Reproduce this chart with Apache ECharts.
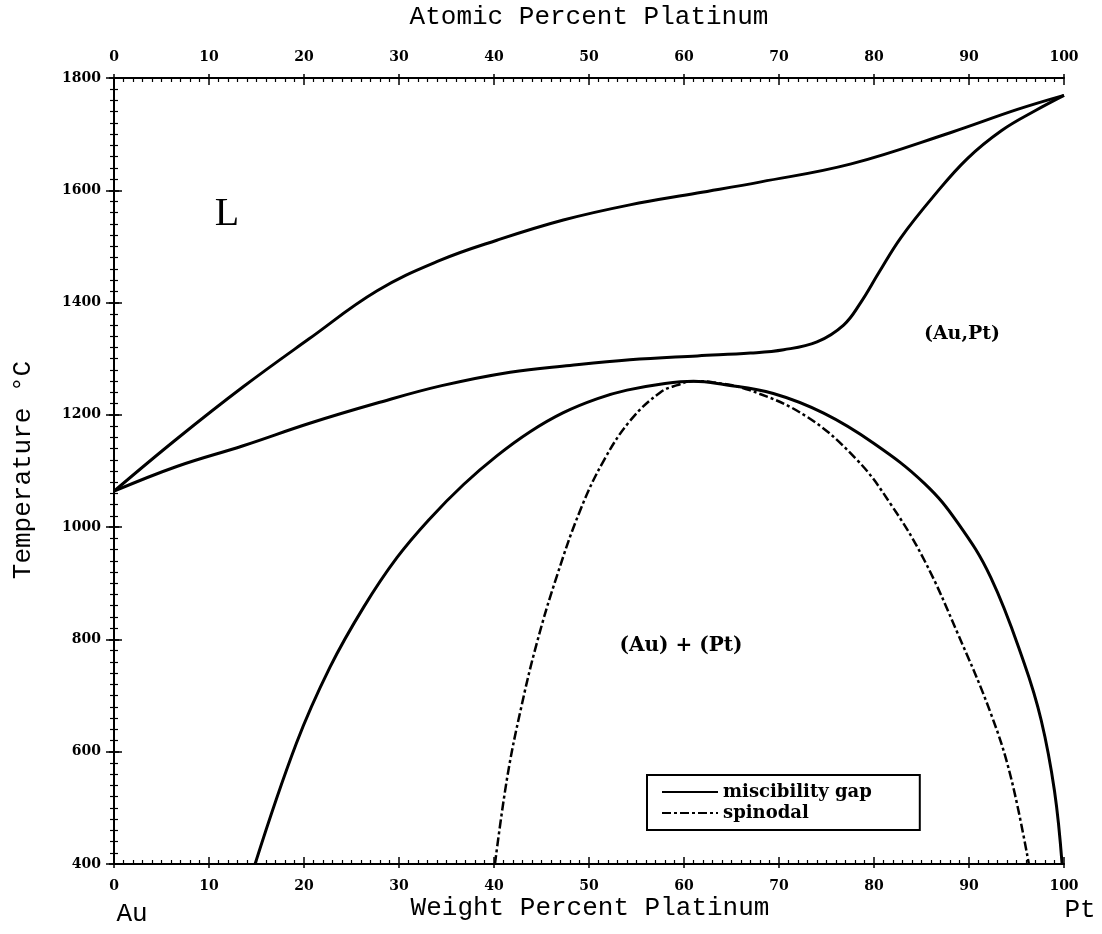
<!DOCTYPE html>
<html>
<head>
<meta charset="utf-8">
<script src="https://cdn.jsdelivr.net/npm/echarts@6/dist/echarts.min.js"></script>
<style>html,body{margin:0;padding:0;background:#fff;}#c{width:1102px;height:934px;}</style>
</head>
<body>
<div id="c"></div>
<script>
// Weight percent Pt vs temperature (°C)
const liquidus = [[0,1064],[6.6,1157],[13.6,1250],[20.5,1335],[27.7,1421],[34.3,1475],[40.3,1511],[47.3,1547],[54.3,1574],[61.4,1595],[68.1,1615],[77.6,1647],[88.1,1703],[95.1,1744],[100,1769]];
const solidus = [[0,1064],[6.6,1108],[13.6,1145],[20.6,1185],[27.7,1221],[34.5,1252],[41.7,1276],[48,1288],[54.3,1298],[61.4,1305],[67,1310],[70.5,1316],[74,1330],[76.8,1360],[78.6,1400],[80.5,1453],[82.8,1515],[86.3,1590],[89.8,1656],[93.4,1706],[97,1742],[100,1769]];
const miscibilityGap = [[14.85,400],[19.2,615],[22.75,751],[26.3,858],[29.8,946],[33.3,1016],[36.8,1076],[40.3,1127],[43.8,1170],[47.3,1204],[50.9,1229],[54,1244],[58,1256],[61,1260],[64.2,1254],[69.4,1238],[74.7,1203],[80,1149],[85.3,1078],[88.8,1008],[92.3,910],[95.8,758],[97.6,656],[99,530],[99.8,400]];
const spinodal = [[40.1,400],[41.4,555],[42.8,674],[44.5,793],[46.6,912],[49.1,1031],[51.6,1120],[54.4,1191],[57.5,1240],[59.3,1253],[61,1260],[63,1258],[66.9,1244],[72.9,1197],[78.2,1120],[81.8,1040],[85.3,941],[88.8,811],[92.3,668],[94.4,555],[96.3,400]];
const xTicks = [0,10,20,30,40,50,60,70,80,90,100];
const yTicks = [400,600,800,1000,1200,1400,1600,1800];
const legendNames = ['miscibility gap','spinodal'];

const chart = echarts.init(document.getElementById('c'));
const labFont = {fontFamily:'DejaVu Serif', fontWeight:'bold', fontSize:14, color:'#000'};
function xAx(pos, labeled) {
  return {
    type:'value', position:pos, min:xTicks[0], max:xTicks[xTicks.length-1], interval:10,
    axisLine:{show:labeled, lineStyle:{color:'#000', width:2}},
    axisTick:{show:true, inside:!labeled, length: labeled?4:7, lineStyle:{color:'#000', width:1.5}},
    minorTick:{show:!labeled, splitNumber:10, length:4, lineStyle:{color:'#000', width:1.2}},
    axisLabel:Object.assign({show:labeled, margin: pos==='top'?14:15, formatter:function(v){return String(v);}}, labFont),
    splitLine:{show:false}
  };
}
function yAx(pos, labeled, showLab) {
  return {
    type:'value', position:pos, min:yTicks[0], max:yTicks[yTicks.length-1], interval:200,
    axisLine:{show:labeled, lineStyle:{color:'#000', width:2}},
    axisTick:{show:true, inside:!labeled, length: labeled?8:5, lineStyle:{color:'#000', width:1.5}},
    minorTick:{show:!labeled, splitNumber:10, length:4, lineStyle:{color:'#000', width:1.2}},
    axisLabel:Object.assign({show:showLab, margin:13, formatter:function(v){return String(v);}}, labFont),
    splitLine:{show:false}
  };
}
const lineBase = {type:'line', symbol:'none', smooth:0.4, xAxisIndex:0, yAxisIndex:0, silent:true, z:3};
chart.setOption({
  animation:false,
  backgroundColor:'#fff',
  grid:{left:114, right:38, top:78, bottom:70},
  xAxis:[xAx('bottom',true), xAx('bottom',false), xAx('top',true), xAx('top',false)],
  yAxis:[yAx('left',true,true), yAx('left',false,false), yAx('right',true,false), yAx('right',false,false)],
  legend:{
    data:legendNames, orient:'vertical', left:647, top:775,
    padding:[8,48,8,14], itemGap:3, itemWidth:56, itemHeight:14,
    borderColor:'#000', borderWidth:2, backgroundColor:'#fff',
    lineStyle:{width:2},
    itemStyle:{opacity:0, borderWidth:0},
    textStyle:{fontFamily:'DejaVu Serif', fontWeight:'bold', fontSize:18, color:'#000'}
  },
  series:[
    Object.assign({}, lineBase, {name:'liquidus', data:liquidus, lineStyle:{color:'#000', width:3}, itemStyle:{color:'#000'}}),
    Object.assign({}, lineBase, {name:'solidus', data:solidus, lineStyle:{color:'#000', width:3}, itemStyle:{color:'#000'}}),
    Object.assign({}, lineBase, {name:'miscibility gap', data:miscibilityGap, lineStyle:{color:'#000', width:3}, itemStyle:{color:'#000'}}),
    Object.assign({}, lineBase, {name:'spinodal', data:spinodal, lineStyle:{color:'#000', width:2.5, type:[9,3,3,3]}, itemStyle:{color:'#000'}})
  ],
  graphic:[
    {type:'text', x:589, y:17, style:{text:'Atomic Percent Platinum', font:'26px "Liberation Mono"', fill:'#000', align:'center', verticalAlign:'middle'}},
    {type:'text', x:590, y:908, style:{text:'Weight Percent Platinum', font:'26px "Liberation Mono"', fill:'#000', align:'center', verticalAlign:'middle'}},
    {type:'text', x:23, y:470, rotation:Math.PI/2, style:{text:'Temperature °C', font:'26px "Liberation Mono"', fill:'#000', align:'center', verticalAlign:'middle'}},
    {type:'text', x:132, y:914, style:{text:'Au', font:'26px "Liberation Mono"', fill:'#000', align:'center', verticalAlign:'middle'}},
    {type:'text', x:1080, y:910, style:{text:'Pt', font:'26px "Liberation Mono"', fill:'#000', align:'center', verticalAlign:'middle'}},
    {type:'text', x:227, y:214, style:{text:'L', font:'40px "Liberation Serif"', fill:'#000', align:'center', verticalAlign:'middle'}},
    {type:'text', x:962, y:334, style:{text:'(Au,Pt)', font:'bold 19px "DejaVu Serif"', fill:'#000', align:'center', verticalAlign:'middle'}},
    {type:'text', x:681, y:646, style:{text:'(Au) + (Pt)', font:'bold 20px "DejaVu Serif"', fill:'#000', align:'center', verticalAlign:'middle'}}
  ]
});
</script>
</body>
</html>
